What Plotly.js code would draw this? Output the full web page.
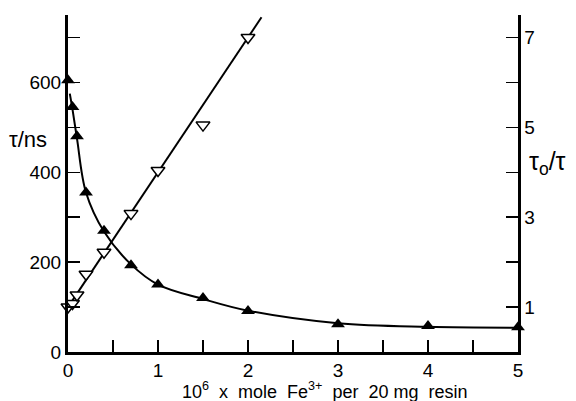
<!DOCTYPE html>
<html><head><meta charset="utf-8">
<script src="https://cdn.plot.ly/plotly-3.0.1.min.js"></script>
<style>html,body{margin:0;padding:0;background:#fff}#c{width:576px;height:401px}</style>
</head><body><div id="c"></div>
<script>
// Lifetime tau (ns), filled triangles, left axis
const feX = [0, 0.05, 0.1, 0.2, 0.4, 0.7, 1.0, 1.5, 2, 3, 4, 5];
const tauNs = [605, 545, 480, 355, 270, 193, 150, 120, 91, 62, 58, 55];
// Smooth curve drawn through the lifetime data
const curveX = [0.02, 0.05, 0.1, 0.2, 0.4, 0.7, 1.0, 1.5, 2, 3, 4, 5];
const curveY = [575, 540, 475, 355, 268, 195, 150, 118, 92, 64, 56, 54];
// Stern-Volmer ratio tau0/tau, open triangles, right axis
const svX = [0, 0.05, 0.1, 0.2, 0.4, 0.7, 1.0, 1.5, 2.0];
const svY = [1.0, 1.08, 1.27, 1.73, 2.22, 3.08, 4.04, 5.05, 7.0];
// Fitted straight line (end points)
const fitX = [0, 2.15];
const fitY = [1.0, 7.45];

const xTicks = [0,0.5,1,1.5,2,2.5,3,3.5,4,4.5,5];
const xTickText = ['0','','1','','2','','3','','4','','5'];
const yTicks = [0,100,200,300,400,500,600,700];
const yTickText = ['0','','200','','400','','600',''];
const y2Ticks = [1,2,3,4,5,6,7];
const y2TickText = ['1','','3','','5','','7'];

const fam = 'Liberation Sans, Arial, sans-serif';
const font = {family: fam, size: 19, color: '#000'};

const traces = [
  {x: curveX, y: curveY, mode: 'lines', line: {color: '#000', width: 2, shape: 'spline', smoothing: 1}, hoverinfo: 'skip'},
  {x: feX, y: tauNs, mode: 'markers', marker: {symbol: 'triangle-up', size: 12, color: '#000'}, cliponaxis: false},
  {x: fitX, y: fitY, yaxis: 'y2', mode: 'lines', line: {color: '#000', width: 2}},
  {x: svX, y: svY, yaxis: 'y2', mode: 'markers', marker: {symbol: 'triangle-down', size: 12, color: '#fff', line: {color: '#000', width: 1.5}}, cliponaxis: false}
];

const layout = {
  width: 576, height: 401,
  margin: {l: 68, r: 58, t: 15, b: 49},
  showlegend: false,
  paper_bgcolor: '#fff', plot_bgcolor: '#fff',
  font: font,
  xaxis: {
    range: [0, 5], tickvals: xTicks, ticktext: xTickText,
    ticks: 'inside', ticklen: 12, tickwidth: 1.5, tickcolor: '#000',
    showline: true, linewidth: 2.5, linecolor: '#000', showgrid: false, zeroline: false,
    tickfont: font
  },
  yaxis: {
    range: [0, 750], tickvals: yTicks, ticktext: yTickText,
    ticks: 'inside', ticklen: 12, tickwidth: 1.5, tickcolor: '#000',
    showline: true, linewidth: 3, linecolor: '#000', showgrid: false, zeroline: false,
    tickfont: font
  },
  yaxis2: {
    overlaying: 'y', side: 'right',
    range: [0, 7.5], tickvals: y2Ticks, ticktext: y2TickText,
    ticks: 'inside', ticklen: 12, tickwidth: 1.5, tickcolor: '#000',
    showline: true, linewidth: 2.5, linecolor: '#000', showgrid: false, zeroline: false,
    tickfont: font
  },
  annotations: [
    {text: 'τ/ns', xref: 'paper', yref: 'paper', x: -0.135, y: 0.63, xanchor: 'left', yanchor: 'middle', showarrow: false, font: {family: fam, size: 22, color: '#000'}},
    {text: 'τ<sub>o</sub>/τ', xref: 'paper', yref: 'paper', x: 1.02, y: 0.56, xanchor: 'left', yanchor: 'middle', showarrow: false, font: {family: fam, size: 25, color: '#000'}},
    {text: '10<sup>6</sup>  x  mole  Fe<sup>3+</sup>  per  20 mg  resin', xref: 'paper', yref: 'paper', x: 0.57, y: -0.113, xanchor: 'center', yanchor: 'middle', showarrow: false, font: {family: fam, size: 18, color: '#000'}}
  ]
};

Plotly.newPlot('c', traces, layout, {staticPlot: true});
</script>
</body></html>
